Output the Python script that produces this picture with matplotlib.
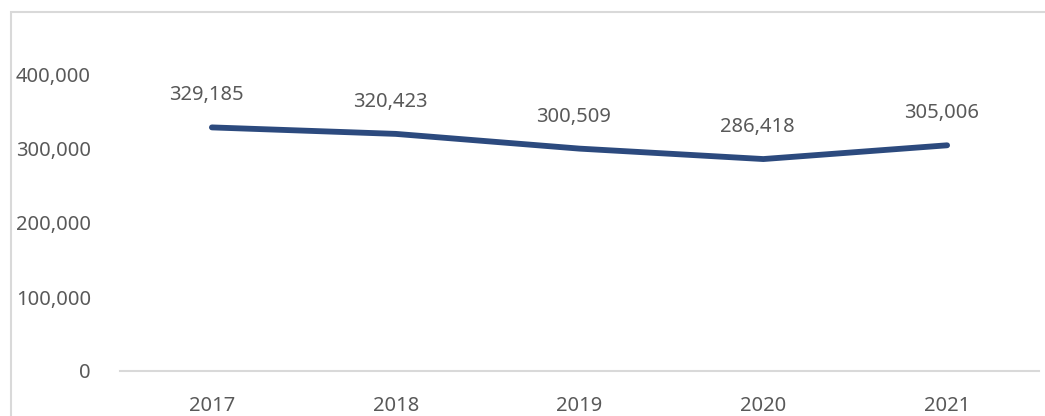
import matplotlib.pyplot as plt
from matplotlib.patches import Rectangle

years = ['2017', '2018', '2019', '2020', '2021']
values = [329185, 320423, 300509, 286418, 305006]
yticks = [0, 100000, 200000, 300000, 400000]

plt.rcParams['font.family'] = ['Noto Sans', 'DejaVu Sans']
text_color = '#595959'
line_color = '#2C4A7E'

fig = plt.figure(figsize=(10.45, 4.16), dpi=100)
ax = fig.add_axes([120 / 1045, 45 / 416, 919 / 1045, 296 / 416])

# outer chart border (cut off at right and bottom like the reference)
fig.patches.append(Rectangle((11 / 1045, -0.1), 1.2, (416 - 12) / 416 + 0.1,
                             transform=fig.transFigure, fill=False,
                             edgecolor='#D9D9D9', linewidth=1.5))

x = list(range(len(years)))
ax.plot(x, values, color=line_color, linewidth=4.2, solid_capstyle='round',
        solid_joinstyle='round', clip_on=False)

for xi, v in zip(x, values):
    ax.annotate(f'{v:,}', (xi, v), xytext=(-4, 23), textcoords='offset points',
                ha='center', va='center', fontsize=14.5, color=text_color)

ax.set_xlim(-0.5, len(years) - 0.5)
ax.set_ylim(0, 400000)
ax.set_xticks(x)
ax.set_xticklabels(years)
ax.set_yticks(yticks)
ax.set_yticklabels([f'{t:,}' for t in yticks])
ax.tick_params(axis='both', length=0, labelsize=14.5, colors=text_color)
ax.tick_params(axis='x', pad=18)
ax.tick_params(axis='y', pad=21)
for lbl in ax.get_yticklabels():
    lbl.set_horizontalalignment('right')

for s in ['top', 'right', 'left']:
    ax.spines[s].set_visible(False)
ax.spines['bottom'].set_color('#D9D9D9')
ax.spines['bottom'].set_linewidth(1.5)
ax.set_facecolor('none')

fig.savefig('out.png', dpi=100)
